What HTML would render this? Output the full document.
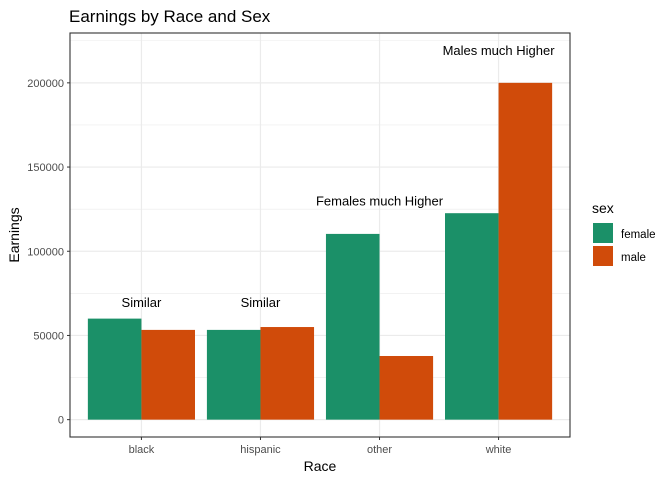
<!DOCTYPE html>
<html><head><meta charset="utf-8"><style>
body{margin:0;background:#fff;font-family:"Liberation Sans",sans-serif}
</style></head><body>
<svg id="chart" width="672" height="480" xmlns="http://www.w3.org/2000/svg">
<text x="69" y="22" font-size="17" fill="#000">Earnings by Race and Sex</text>
<g id="grid"></g><g id="bars"></g><g id="axes"></g><g id="notes"></g>
<rect x="70" y="33" width="500" height="404" fill="none" stroke="#333" stroke-width="1.1"/>
<text x="320" y="471" font-size="14" text-anchor="middle">Race</text>
<text transform="translate(19,235) rotate(-90)" font-size="14" text-anchor="middle">Earnings</text>
<g>
<text x="592" y="213" font-size="14">sex</text>
<rect x="593" y="223" width="20" height="20" fill="#1b9068"/>
<text x="621" y="238" font-size="11.5">female</text>
<rect x="593" y="246" width="20" height="20" fill="#d04b0a"/>
<text x="621" y="261" font-size="11.5">male</text>
</g>
</svg>
<script>
const categories=["black","hispanic","other","white"];
const female=[60000,53300,110300,122600];
const male=[53300,55000,37800,200000];
const yTicks=[0,50000,100000,150000,200000];
const notes=["Similar","Similar","Females much Higher","Males much Higher"];
const noteY=[70000,70000,130000,219500];
const NS="http://www.w3.org/2000/svg";
const L=70,R=570,T=33,B=437,ymin=-10300,ymax=229600;
const y=v=>B-(v-ymin)/(ymax-ymin)*(B-T);
const step=(R-L)/(categories.length-1+1.2);
const x=i=>L+step*(i+0.6);
function mk(p,tag,a){const e=document.createElementNS(NS,tag);for(const k in a)e.setAttribute(k,a[k]);document.getElementById(p).appendChild(e);return e;}
const minor=[];for(let i=0;i<yTicks.length-1;i++)minor.push((yTicks[i]+yTicks[i+1])/2);minor.push(yTicks[yTicks.length-1]+25000);
minor.forEach(v=>{if(y(v)>T){const e=mk("grid","line",{x1:L,x2:R,y1:y(v),y2:y(v),stroke:"#ebebeb","stroke-width":0.6});

}});
yTicks.forEach(v=>{const e=mk("grid","line",{x1:L,x2:R,y1:y(v),y2:y(v),stroke:"#ebebeb","stroke-width":1.2});


const t=mk("axes","line",{x1:L-3,x2:L,y1:y(v),y2:y(v),stroke:"#333"});


const l=mk("axes","text",{x:L-6,y:y(v)+4,"font-size":11,"text-anchor":"end",fill:"#4d4d4d"});l.textContent=v;

});
const bw=step*0.9/2;
categories.forEach((c,i)=>{const g=mk("grid","line",{x1:x(i),x2:x(i),y1:T,y2:B,stroke:"#ebebeb","stroke-width":1.2});


const f=mk("bars","rect",{x:x(i)-bw,y:y(female[i]),width:bw,height:y(0)-y(female[i]),fill:"#1b9068"});


const m=mk("bars","rect",{x:x(i),y:y(male[i]),width:bw,height:y(0)-y(male[i]),fill:"#d04b0a"});


const t=mk("axes","line",{x1:x(i),x2:x(i),y1:B,y2:B+3,stroke:"#333"});


const l=mk("axes","text",{x:x(i),y:B+16,"font-size":11,"text-anchor":"middle",fill:"#4d4d4d"});l.textContent=c;


const n=mk("notes","text",{x:x(i),y:y(noteY[i])+5,"font-size":13,"text-anchor":"middle"});n.textContent=notes[i];

});
</script>
</body></html>
